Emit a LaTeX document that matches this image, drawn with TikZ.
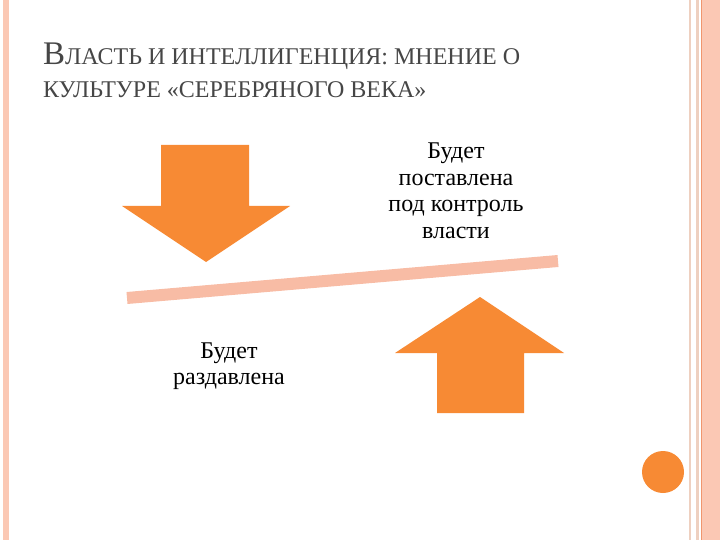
\documentclass[tikz,border=0pt]{standalone}
\usepackage{fontspec}
\setmainfont{LiberationSerif}[Extension=.ttf,UprightFont=*-Regular,BoldFont=*-Bold]
\definecolor{arroworange}{RGB}{247,138,52}
\definecolor{barpink}{RGB}{248,188,165}
\definecolor{stripepink}{RGB}{251,200,180}
\definecolor{stripetan}{RGB}{238,208,192}
\definecolor{stripeline}{RGB}{240,150,110}
\definecolor{titlegray}{RGB}{70,70,70}
\tikzset{
  bodytext/.style={align=center,inner sep=0pt,font=\fontsize{24}{26.5}\selectfont},
  titletext/.style={anchor=base west,inner sep=0pt,text=titlegray},
}
\newcommand{\capbig}[1]{{\fontsize{33}{36}\selectfont #1}}
\newcommand{\capsmall}[1]{{\fontsize{24}{28}\selectfont #1}}

\begin{document}
\begin{tikzpicture}[x=1pt,y=-1pt]
  \useasboundingbox (0,0) rectangle (720,540);

  \fill[stripepink] (3,0) rectangle (9,540);
  \fill[stripetan] (689,0) rectangle (691,540);
  \fill[stripetan] (696,0) rectangle (699,540);
  \fill[stripeline] (700.5,0) rectangle (702,540);
  \fill[stripepink] (702,0) rectangle (720,540);

  \node[titletext] (title1) at (43,65) {\capbig{В}\capsmall{ЛАСТЬ И ИНТЕЛЛИГЕНЦИЯ: МНЕНИЕ О}};
  \node[titletext] (title2) at (43,98) {\capsmall{КУЛЬТУРЕ «СЕРЕБРЯНОГО ВЕКА»}};

  \coordinate (d1) at (161,145);
  \coordinate (d2) at (249,145);
  \coordinate (d3) at (249,206);
  \coordinate (d4) at (290,206);
  \coordinate (d5) at (206,262);
  \coordinate (d6) at (122,206);
  \coordinate (d7) at (161,206);
  \fill[arroworange] (d1) -- (d2) -- (d3) -- (d4) -- (d5) -- (d6) -- (d7) -- cycle;

  \coordinate (u1) at (480,297);
  \coordinate (u2) at (564,353);
  \coordinate (u3) at (524,353);
  \coordinate (u4) at (524,413);
  \coordinate (u5) at (437,413);
  \coordinate (u6) at (437,353);
  \coordinate (u7) at (395,353);
  \fill[arroworange] (u1) -- (u2) -- (u3) -- (u4) -- (u5) -- (u6) -- (u7) -- cycle;

  \coordinate (b1) at (127,298);
  \coordinate (b2) at (558,261);
  \draw[barpink,line width=12pt] (b1) -- (b2);

  \node[bodytext] (control) at (456,191) {Будет\\поставлена\\под контроль\\власти};
  \node[bodytext] (crushed) at (229,366) {Будет\\раздавлена};

  \fill[arroworange] (663,472) circle (21);
\end{tikzpicture}
\end{document}
